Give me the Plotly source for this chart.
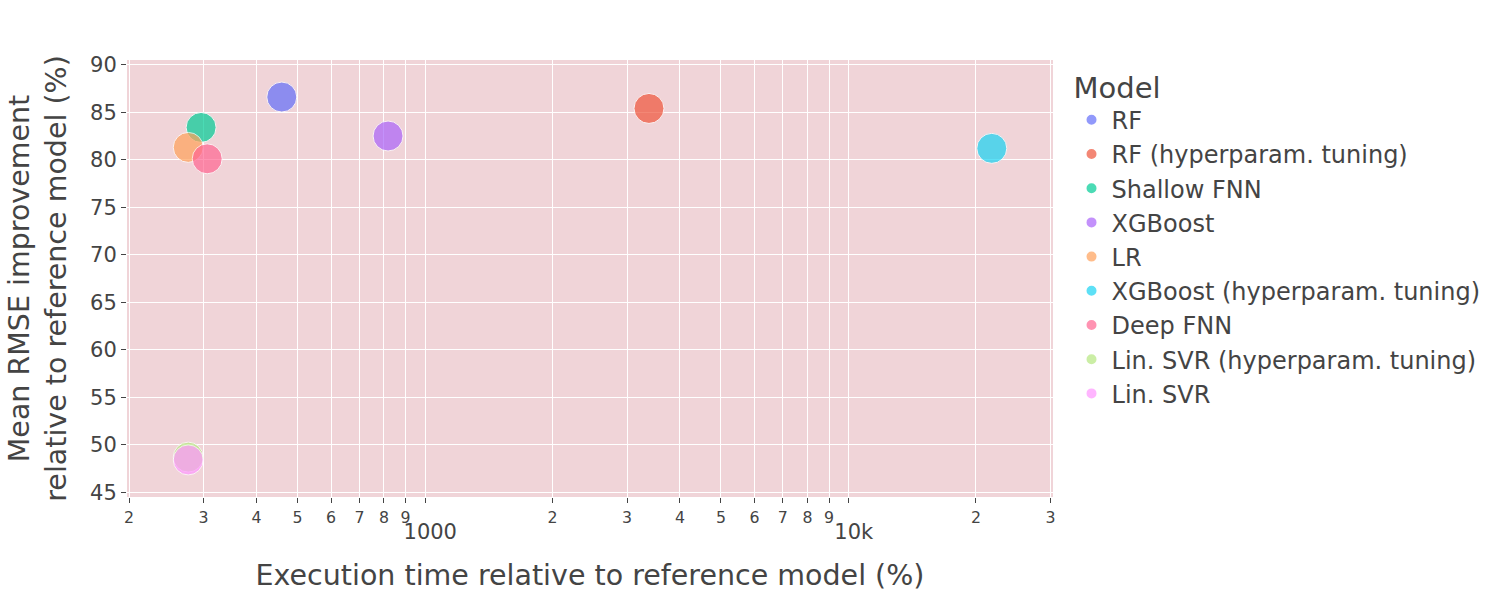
import plotly.graph_objects as go

models = ["RF", "RF (hyperparam. tuning)", "Shallow FNN", "XGBoost", "LR",
          "XGBoost (hyperparam. tuning)", "Deep FNN", "Lin. SVR (hyperparam. tuning)", "Lin. SVR"]
exec_time = [459, 3380, 296, 818, 276, 21800, 306, 276, 276]
rmse_improvement = [86.6, 85.4, 83.4, 82.5, 81.3, 81.2, 80.1, 48.7, 48.4]
colors = ["#636EFA", "#EF553B", "#00CC96", "#AB63FA", "#FFA15A",
          "#19D3F3", "#FF6692", "#B6E880", "#FF97FF"]

FONT = "DejaVu Sans"
fig = go.Figure()
for m, x, y, c in zip(models, exec_time, rmse_improvement, colors):
    fig.add_trace(go.Scatter(
        x=[x], y=[y], mode="markers", name=m,
        marker=dict(color=c, size=30, opacity=0.7, line=dict(color="white", width=1)),
    ))

fig.update_layout(
    width=1500, height=600,
    margin=dict(l=127, r=447, t=60, b=103),
    paper_bgcolor="white", plot_bgcolor="#F0D4D8",
    font=dict(family=FONT, color="#444", size=18),
    legend=dict(title=dict(text="Model", font=dict(size=29)), font=dict(size=24),
                itemsizing="constant", tracegroupgap=0, y=1.0, x=1.02),
    xaxis=dict(type="log", title=dict(text="Execution time relative to reference model (%)",
                                      font=dict(size=28.5), standoff=22),
               range=[2.2963, 4.483], gridcolor="white", showline=False,
               ticks="outside", tickcolor="#444", ticklen=5, zeroline=False,
               tickfont=dict(size=21)),
    yaxis=dict(title=dict(text="Mean RMSE improvement<br>relative to reference model (%)",
                          font=dict(size=28.5)),
               range=[44.5, 90.5], dtick=5, gridcolor="white", ticks="outside",
               tickcolor="#444", ticklen=5, zeroline=False, tickfont=dict(size=21)),
)
fig.write_html("out.html")
